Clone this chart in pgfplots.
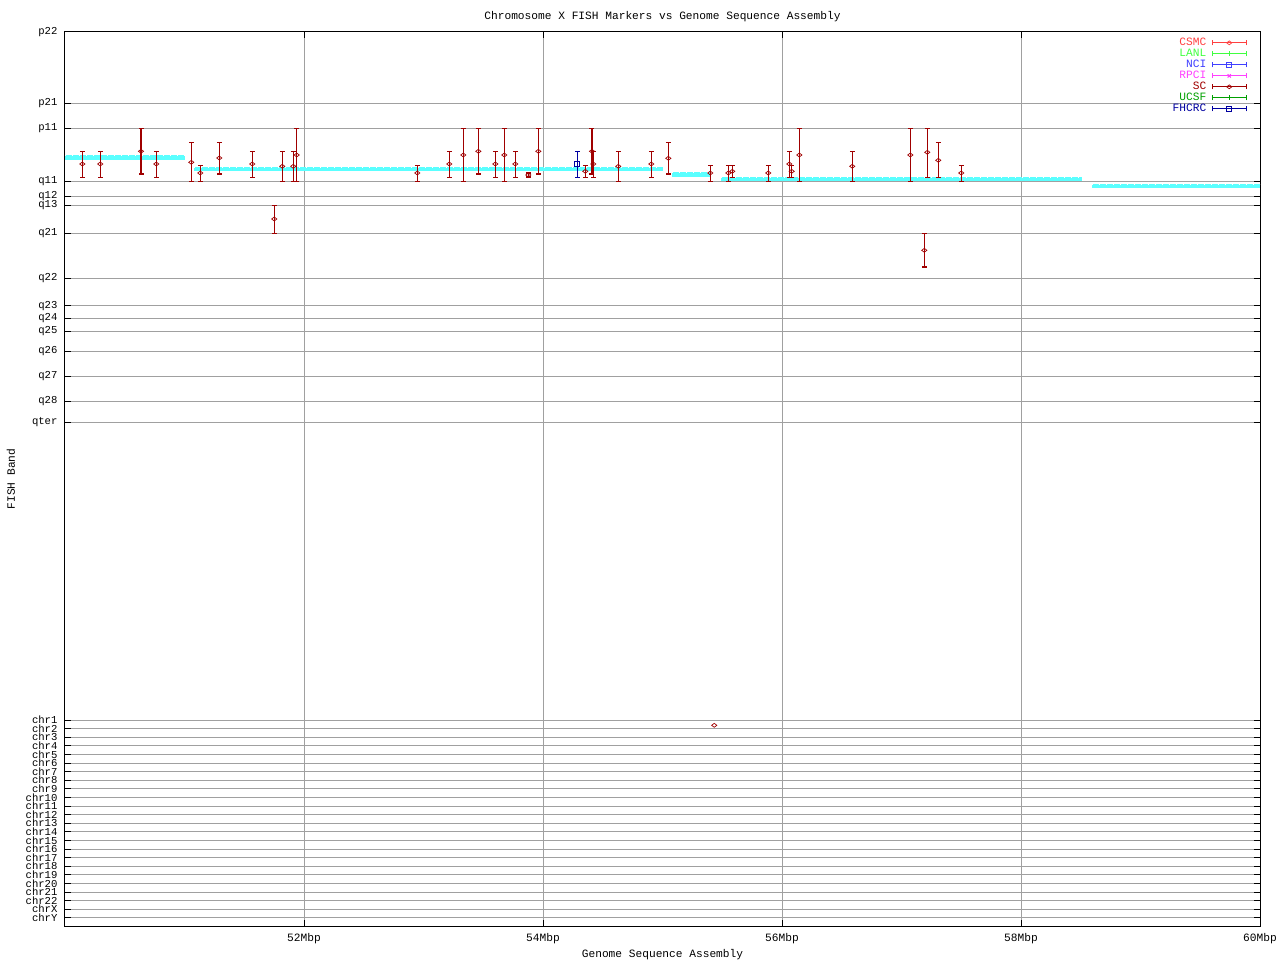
\documentclass[border=0pt]{standalone}
\usepackage{pgfplots}
\pgfplotsset{compat=1.18}
\usepackage{pgfplotstable}
\usepackage{fontspec}
\setmainfont{Liberation Mono}

\definecolor{csmc}{RGB}{255,64,64}
\definecolor{lanl}{RGB}{64,255,64}
\definecolor{nci}{RGB}{64,64,255}
\definecolor{rpci}{RGB}{255,64,255}
\definecolor{sc}{RGB}{160,0,0}
\definecolor{ucsf}{RGB}{0,160,0}
\definecolor{fhcrc}{RGB}{0,0,160}
\definecolor{asm}{RGB}{90,255,255}
\definecolor{gridgray}{RGB}{160,160,160}

% SC markers: position (Mbp), band row, band range top/bottom
\pgfplotstableread{
x y top bot
50.145 164 151.3 177.3
50.295 164 151.3 177.3
50.636 151.3 128.3 174
50.764 164 151.3 177.3
51.057 162.3 142.3 181.3
51.132 173 165.3 181.3
51.291 158 142.3 174
51.567 164 151.3 177.3
51.751 219 205.3 233.3
51.818 166.3 151.3 181.3
51.910 166.3 151.3 181.3
51.939 155 128.3 181.3
52.948 173 165.3 181.3
53.216 164 151.3 177.3
53.333 155 128.3 181.3
53.459 151.3 128.3 174
53.601 164 151.3 177.3
53.676 155 128.3 181.3
53.768 164 151.3 177.3
53.877 175 173 177
53.961 151.3 128.3 174
54.354 171.3 165.3 177.3
54.410 151.3 128.3 174
54.421 164 151.3 177.3
54.630 166.3 151.3 181.3
54.906 164 151.3 177.3
55.049 158.3 142.3 174
55.400 173 165.3 181.3
55.551 173 165.3 181.3
55.584 171.3 165.3 177.3
55.885 173 165.3 181.3
56.061 164 151.3 177.3
56.081 171.3 165.3 177.3
56.145 155 128.3 181.3
56.588 166.3 151.3 181.3
57.074 155 128.3 181.3
57.191 250.3 233.3 267
57.216 152.3 128.3 177.3
57.308 160.3 142.3 177.3
57.500 173 165.3 181.3
}\sctable

\pgfplotstableread{
x y top bot
54.287 164 151.3 177.3
}\fhcrctable

\begin{document}
\begin{tikzpicture}[font=\fontsize{11.2}{13}\selectfont]
\begin{axis}[
    at={(65pt,34pt)}, anchor=south west,
    scale only axis, width=1195pt, height=894pt,
    xmin=50, xmax=60, ymin=32, ymax=926, y dir=reverse,
    axis line style={line width=1pt},
    tick align=inside, major tick length=6pt,
    tick style={black, line width=1pt},
    xtick={52,54,56,58,60},
    xticklabels={52Mbp,54Mbp,56Mbp,58Mbp,60Mbp},
    ytick={32,103.3,128.3,181.3,196.3,205.3,233.3,278.3,306,318.3,331.3,351.3,376.3,401.3,422.3,
        720,728.6,737.2,745.8,754.4,763,771.6,780.2,788.8,797.4,806,814.6,823.2,831.8,840.4,849,857.6,866.2,874.8,883.4,892,900.6,909.2,917.8},
    yticklabels={p22,p21,p11,q11,q12,q13,q21,q22,q23,q24,q25,q26,q27,q28,qter,
        chr1,chr2,chr3,chr4,chr5,chr6,chr7,chr8,chr9,chr10,chr11,chr12,chr13,chr14,chr15,chr16,chr17,chr18,chr19,chr20,chr21,chr22,chrX,chrY},
    yticklabel style={xshift=-4pt, font=\fontsize{10.6}{11}\selectfont},
    xticklabel style={anchor=base, yshift=-15pt},
    grid=major, major grid style={gridgray, line width=1pt},
    title={Chromosome X FISH Markers vs Genome Sequence Assembly},
    title style={at={(axis description cs:0.5,1)}, anchor=base, yshift=6pt},
    xlabel={Genome Sequence Assembly},
    every axis x label/.style={at={(axis description cs:0.5,0)}, anchor=base, yshift=-31pt},
    ylabel={FISH Band},
    every axis y label/.style={at={(axis description cs:0,0.5)}, xshift=-54pt, rotate=90, anchor=center},
    legend style={at={(axis description cs:0.9916,0.9965)}, anchor=north east,
        draw=none, fill=none, column sep=5pt,
        nodes={text height=7.5pt, text depth=2.5pt, inner sep=0.5pt}},
    legend cell align=right,
    legend plot pos=right,
    legend image code/.code={
        \draw[#1, mark repeat=2, mark phase=2] plot coordinates {(0pt,0pt) (17pt,0pt) (34pt,0pt)};
        \draw[#1, mark=none] (0pt,-2.5pt) -- (0pt,2.5pt) (34pt,-2.5pt) -- (34pt,2.5pt);
    },
    clip=true,
]
% assembly contigs
\pgfplotsset{contig/.style={asm, line width=4.5pt, forget plot},
    notch/.style={white, line width=1pt, dash pattern=on 1pt off 6pt, yshift=1.8pt, forget plot},
    dmd/.style={mark=diamond, mark size=2.6pt, mark options={line width=0.7pt, fill=white, rotate=90}}}
\addplot[contig] coordinates {(50.0,157.7) (51.004,157.7)};
\addplot[notch] coordinates {(50.0,157.7) (51.004,157.7)};
\addplot[contig] coordinates {(51.08,169) (55.004,169)};
\addplot[notch] coordinates {(51.08,169) (55.004,169)};
\addplot[contig] coordinates {(55.08,174.3) (55.40,174.3)};
\addplot[notch] coordinates {(55.08,174.3) (55.40,174.3)};
\addplot[contig] coordinates {(55.49,179) (58.51,179)};
\addplot[notch] coordinates {(55.49,179) (58.51,179)};
\addplot[contig] coordinates {(58.59,186) (60.0,186)};
\addplot[notch] coordinates {(58.59,186) (60.0,186)};

% SC
\addplot[sc, only marks, dmd, forget plot,
    error bars/.cd, y dir=both, y explicit,
    error bar style={line width=1.3pt, sc},
    error mark=|, error mark options={mark size=2.5pt, line width=1.2pt, sc}]
    table[x=x, y=y, y error plus expr=\thisrow{bot}-\thisrow{y}, y error minus expr=\thisrow{y}-\thisrow{top}] {\sctable};
\addplot[sc, only marks, dmd, forget plot]
    coordinates {(55.433,725.3)};

% FHCRC
\addplot[fhcrc, only marks, mark=square, mark size=2.3pt, mark options={line width=1pt, fill=white}, forget plot,
    error bars/.cd, y dir=both, y explicit,
    error bar style={line width=1.3pt, fhcrc},
    error mark=|, error mark options={mark size=2.5pt, line width=1.2pt, fhcrc}]
    table[x=x, y=y, y error plus expr=\thisrow{bot}-\thisrow{y}, y error minus expr=\thisrow{y}-\thisrow{top}] {\fhcrctable};

\addlegendimage{csmc, line width=1pt, dmd}
\addlegendentry{\textcolor{csmc}{CSMC}}
\addlegendimage{lanl, line width=1pt, mark=|, mark size=2.5pt}
\addlegendentry{\textcolor{lanl}{LANL}}
\addlegendimage{nci, line width=1pt, mark=square, mark size=2.3pt, mark options={fill=white}}
\addlegendentry{\textcolor{nci}{NCI}}
\addlegendimage{rpci, line width=1pt, mark=x, mark size=2.3pt}
\addlegendentry{\textcolor{rpci}{RPCI}}
\addlegendimage{sc, line width=1pt, dmd}
\addlegendentry{\textcolor{sc}{SC}}
\addlegendimage{ucsf, line width=1pt, mark=|, mark size=2.5pt}
\addlegendentry{\textcolor{ucsf}{UCSF}}
\addlegendimage{fhcrc, line width=1pt, mark=square, mark size=2.3pt, mark options={fill=white}}
\addlegendentry{\textcolor{fhcrc}{FHCRC}}
\end{axis}
\pgfresetboundingbox
\path[use as bounding box] (0,0) rectangle (1280pt,960pt);
\end{tikzpicture}
\end{document}
